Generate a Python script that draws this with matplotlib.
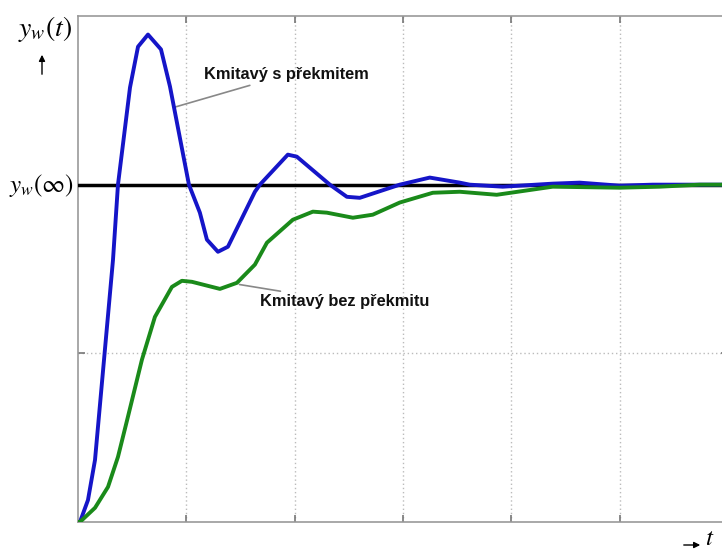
import matplotlib
matplotlib.use("Agg")
import matplotlib.pyplot as plt

plt.rcParams["mathtext.fontset"] = "stix"

# Step response with overshoot (blue)
t_over = [0.0, 0.018, 0.092, 0.157, 0.323, 0.369, 0.480, 0.554, 0.646, 0.766, 0.849,
          1.024, 1.125, 1.190, 1.292, 1.384, 1.633, 1.679, 1.937, 2.020, 2.325,
          2.482, 2.601, 2.970, 3.247, 3.524, 3.616, 3.921, 4.382, 4.631, 5.0,
          5.305, 6.0]
y_over = [0.0, 0.0, 0.065, 0.184, 0.777, 1.0, 1.288, 1.409, 1.445, 1.401, 1.291,
          1.0, 0.917, 0.837, 0.801, 0.816, 0.979, 1.0, 1.089, 1.083, 1.0,
          0.964, 0.961, 1.0, 1.021, 1.006, 1.0, 0.994, 1.003, 1.006, 0.997,
          1.0, 1.0]

# Oscillating response without overshoot (green)
t_no_over = [0.0, 0.018, 0.157, 0.277, 0.369, 0.461, 0.590, 0.710, 0.867, 0.959,
             1.052, 1.310, 1.467, 1.633, 1.744, 1.983, 2.168, 2.297, 2.537, 2.721,
             2.970, 3.275, 3.524, 3.865, 4.382, 5.0, 5.369, 5.738, 6.0]
y_no_over = [0.0, 0.0, 0.042, 0.104, 0.193, 0.312, 0.481, 0.608, 0.697, 0.715,
             0.712, 0.691, 0.709, 0.763, 0.828, 0.896, 0.920, 0.917, 0.902, 0.911,
             0.947, 0.976, 0.979, 0.970, 0.994, 0.991, 0.994, 1.0, 1.0]

y_final = 1.0
x_ticks = [1, 2, 3, 4, 5]
y_ticks = [0.5]

label_over = "Kmitavý s překmitem"
label_no_over = "Kmitavý bez překmitu"

fig = plt.figure(figsize=(7.22, 5.52), dpi=100)
ax = fig.add_axes([78 / 722, 1 - 522 / 552, 650 / 722, 506 / 552])
ax.set_xlim(0, 6)
ax.set_ylim(0, 1.5)

ax.set_xticks(x_ticks)
ax.set_yticks(y_ticks)
ax.set_xticklabels([])
ax.set_yticklabels([])
ax.tick_params(direction="in", length=5, width=1.2, color="#777777",
               top=True, right=True)
ax.grid(True, color="#bbbbbb", linestyle=(0, (1, 2)), linewidth=1.0)
for s in ax.spines.values():
    s.set_color("#999999")
    s.set_linewidth(1.2)

ax.axhline(y_final, color="black", linewidth=2.5, zorder=3)
ax.plot(t_over, y_over, color="#1515c8", linewidth=2.8, zorder=4,
        solid_joinstyle="round", solid_capstyle="round")
ax.plot(t_no_over, y_no_over, color="#1a8a1a", linewidth=2.8, zorder=4,
        solid_joinstyle="round", solid_capstyle="round")

text_kw = dict(family=["Liberation Sans", "DejaVu Sans"], fontweight="bold",
               fontsize=11.8, color="#111111")
ax.annotate(label_over, xy=(0.895, 1.23), xytext=(1.165, 1.326),
            va="center", ha="left",
            arrowprops=dict(arrowstyle="-", color="#888888", lw=1.2,
                            shrinkA=1, shrinkB=0), **text_kw)
ax.annotate(label_no_over, xy=(1.49, 0.704), xytext=(1.68, 0.653),
            va="center", ha="left",
            arrowprops=dict(arrowstyle="-", color="#888888", lw=1.2,
                            shrinkA=1, shrinkB=0), **text_kw)

# Axis captions
fig.text(45 / 722, 1 - 29 / 552, r"$y_w(t)$", fontsize=20, ha="center", va="center")
fig.text(42 / 722, 1 - 186 / 552, r"$y_w(\infty)$", fontsize=18, ha="center", va="center")
fig.add_artist(matplotlib.patches.FancyArrowPatch(
    (681 / 722, 1 - 545 / 552), (703 / 722, 1 - 545 / 552),
    transform=fig.transFigure, arrowstyle="-|>", mutation_scale=9,
    color="black", lw=1.0))
fig.add_artist(matplotlib.patches.FancyArrowPatch(
    (42 / 722, 1 - 77 / 552), (42 / 722, 1 - 52 / 552),
    transform=fig.transFigure, arrowstyle="-|>", mutation_scale=9,
    color="black", lw=1.0))
fig.text(705 / 722, 1 - 550 / 552, r"$t$", fontsize=18, ha="left", va="bottom")

fig.savefig("out.png", dpi=100)
